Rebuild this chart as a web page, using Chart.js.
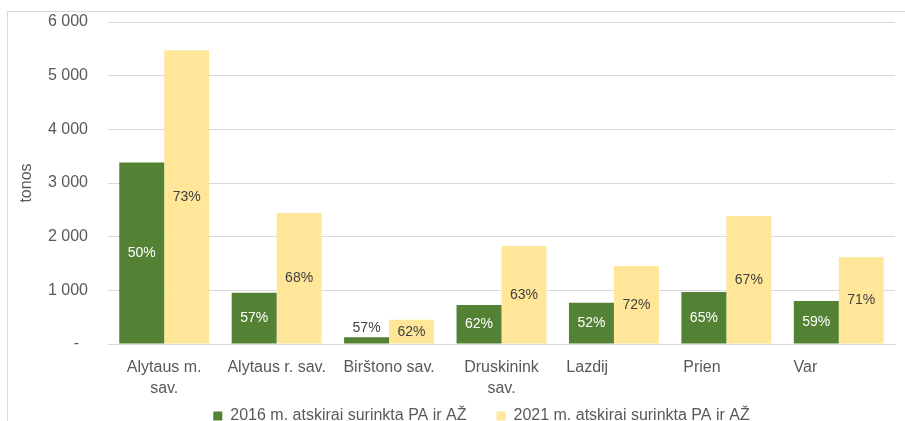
<!DOCTYPE html>
<html>
<head>
<meta charset="utf-8">
<script src="https://cdn.jsdelivr.net/npm/chart.js@4/dist/chart.umd.min.js"></script>
<style>
    body { margin: 0; background: #fff; overflow: hidden; }
    #wrap { position: relative; width: 905px; height: 421px; overflow: hidden; }
    #frame { position: absolute; left: 7px; top: 11px; width: 1000px; height: 600px; border: 1px solid #d9d9d9; }
    #chart { position: absolute; left: 0; top: 0; }
</style>
</head>
<body>
<div id="wrap">
    <div id="frame"></div>
    <canvas id="chart" width="963" height="434"></canvas>
</div>
<script>
// municipalities (the last three labels are cut off in the source, kept at their original spot)
const categories = [
    ["Alytaus m.", "sav."],
    "Alytaus r. sav.",
    "Birštono sav.",
    ["Druskinink", "sav."],
    "Lazdij" + " ".repeat(12),
    "Prien" + " ".repeat(11),
    "Var" + " ".repeat(15)
];
const seriesNames = ["2016 m. atskirai surinkta PA ir AŽ", "2021 m. atskirai surinkta PA ir AŽ"];
// tonnes
const values2016 = [3380, 955, 125, 725, 770, 970, 800];
const values2021 = [5475, 2440, 450, 1825, 1455, 2385, 1615];
// share labels shown on the bars, %
const share2016 = [50, 57, 57, 62, 52, 65, 59];
const share2021 = [73, 68, 62, 63, 72, 67, 71];
const yTicks = [0, 1000, 2000, 3000, 4000, 5000, 6000];

const fontFamily = '"Liberation Sans", Arial, sans-serif';
Chart.defaults.font.family = fontFamily;
Chart.defaults.color = "#595959";

const barLabels = {
    id: "barLabels",
    afterLayout(chart) {
        // x labels run under the legend row, don't clip them at the axis box
        chart.scales.x.bottom = chart.height;
    },
    afterDatasetsDraw(chart) {
        const ctx = chart.ctx;
        ctx.save();
        ctx.font = "14px " + fontFamily;
        ctx.textAlign = "center";
        ctx.textBaseline = "middle";
        chart.data.datasets.forEach((ds, i) => {
            const shares = i === 0 ? share2016 : share2021;
            chart.getDatasetMeta(i).data.forEach((bar, j) => {
                const txt = shares[j] + "%";
                if (bar.base - bar.y < 18) {
                    ctx.fillStyle = "#404040";
                    ctx.fillText(txt, bar.x, bar.y - 9);
                } else {
                    ctx.fillStyle = i === 0 ? "#ffffff" : "#404040";
                    ctx.fillText(txt, bar.x, (bar.y + bar.base) / 2);
                }
            });
        });
        ctx.restore();
    }
};

function fmt(v) {
    if (v === 0) return "-  ";
    return String(v).replace(/\B(?=(\d{3})+(?!\d))/g, " ");
}

new Chart(document.getElementById("chart"), {
    type: "bar",
    data: {
        labels: categories,
        datasets: [{
            label: seriesNames[0],
            data: values2016,
            backgroundColor: "#548235",
            categoryPercentage: 0.8,
            barPercentage: 1
        }, {
            label: seriesNames[1],
            data: values2021,
            backgroundColor: "#ffe699",
            categoryPercentage: 0.8,
            barPercentage: 1
        }]
    },
    options: {
        responsive: false,
        animation: false,
        layout: { padding: { top: 22, left: 0, right: 0, bottom: 0 } },
        plugins: {
            tooltip: { enabled: false },
            legend: {
                position: "bottom",
                labels: {
                    font: { size: 16 },
                    color: "#595959",
                    boxWidth: 9,
                    boxHeight: 9,
                    padding: 30
                }
            }
        },
        scales: {
            x: {
                grid: { display: false },
                border: { display: true, color: "#d9d9d9" },
                ticks: {
                    font: { size: 16, lineHeight: 1.3 },
                    color: "#595959",
                    padding: 5,
                    maxRotation: 0,
                    autoSkip: false
                },
                afterFit(s) { s.height = 34; }
            },
            y: {
                min: 0,
                max: 6000,
                afterBuildTicks(s) { s.ticks = yTicks.map(v => ({ value: v })); },
                grid: { color: "#d9d9d9", drawTicks: true, tickLength: 18, tickColor: "rgba(0,0,0,0)" },
                border: { display: false },
                ticks: {
                    font: { size: 16 },
                    color: "#595959",
                    padding: 2,
                    callback: v => fmt(v)
                },
                title: {
                    display: true,
                    text: "tonos",
                    font: { size: 16 },
                    color: "#595959",
                    padding: { top: 17, bottom: 0 }
                },
                afterFit(s) { s.width = 108; }
            },
            yRight: {
                position: "right",
                grid: { display: false },
                border: { display: false },
                ticks: { display: false },
                afterFit(s) { s.width = 68; }
            }
        }
    },
    plugins: [barLabels]
});
</script>
</body>
</html>
